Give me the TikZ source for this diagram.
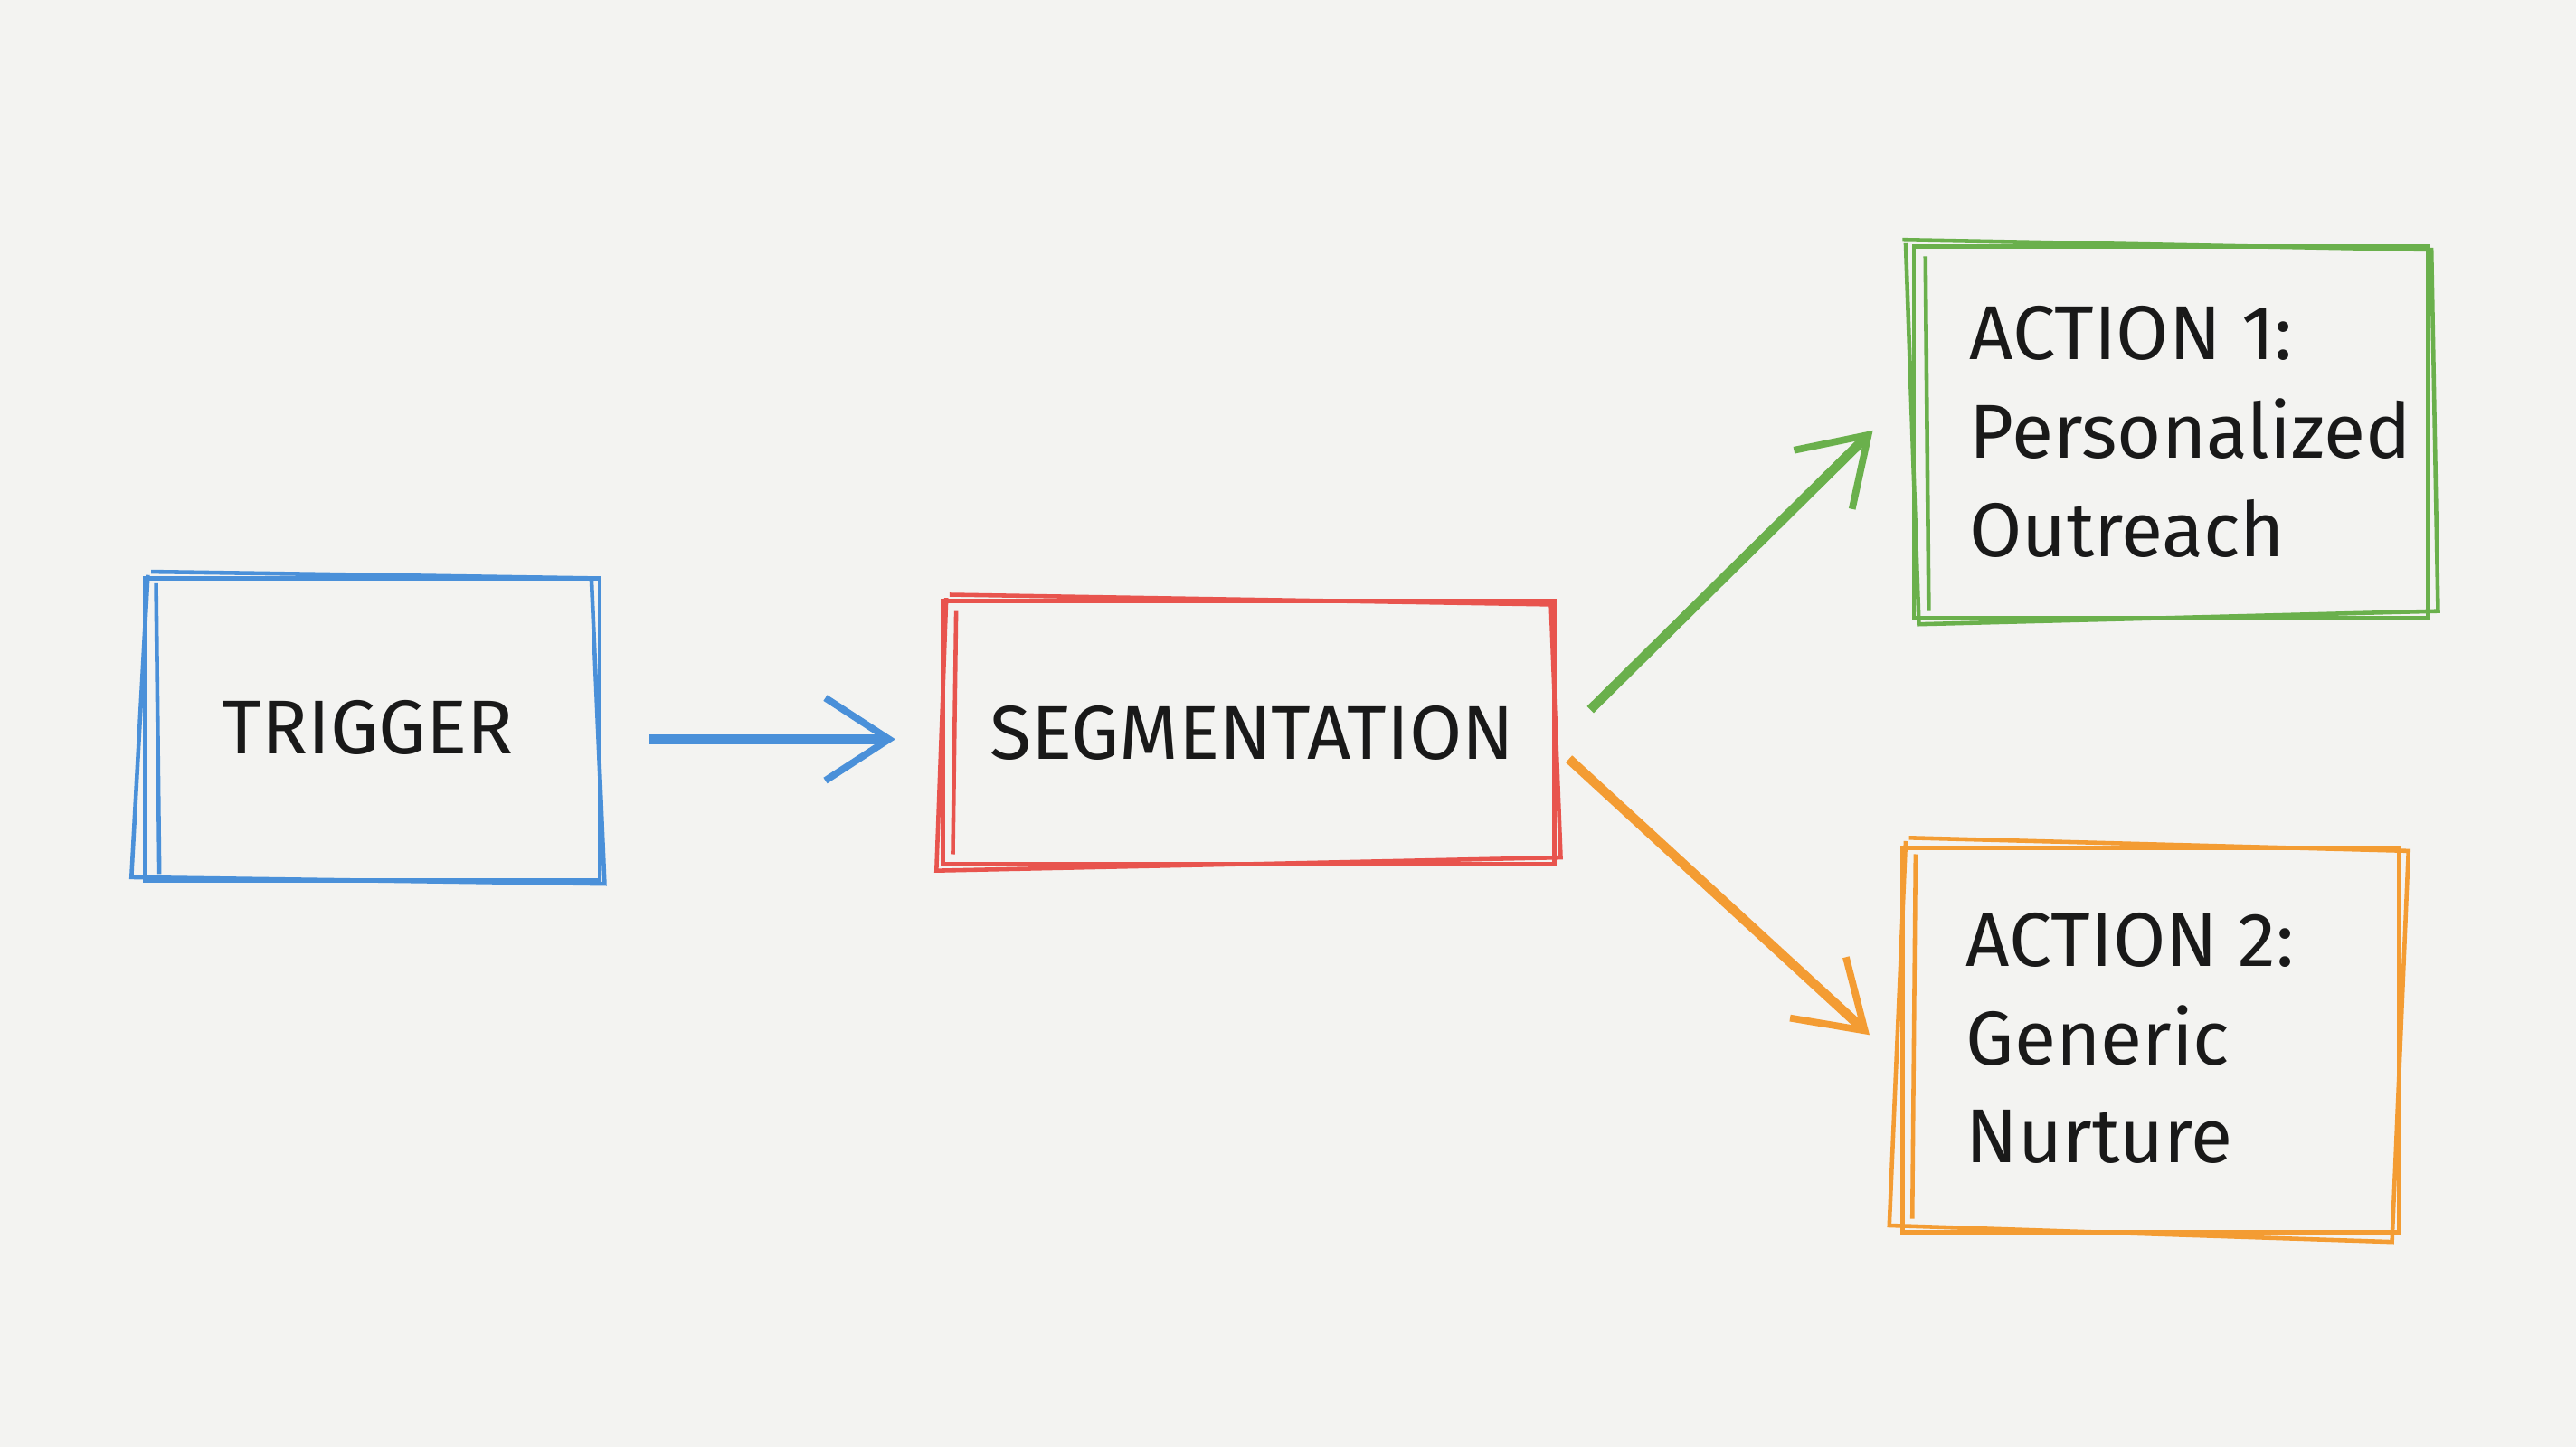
\documentclass[tikz,border=0pt]{standalone}
\usepackage{fontspec}
\setmainfont{Fira Sans}
\usetikzlibrary{arrows.meta}
\definecolor{bg}{HTML}{F3F3F1}
\definecolor{cblue}{HTML}{4A90D9}
\definecolor{cred}{HTML}{E8544E}
\definecolor{cgreen}{HTML}{6AB04C}
\definecolor{corange}{HTML}{F39C33}
\begin{document}
\begin{tikzpicture}[x=0.01816cm,y=-0.01816cm,
  lbl/.style={font=\fontsize{24}{31}\selectfont, text=black!90, align=left},
  sk/.style={line width=1.3pt},
  arr/.style={line width=3pt, -{Straight Barb[length=20pt,width=26pt,line width=2.2pt]}}]
\fill[bg] (0,0) rectangle (1568,881);
\useasboundingbox (0,0) rectangle (1568,881);
% boxes
\node[minimum width=270*0.01816cm, minimum height=180*0.01816cm] (trig) at (226,443) {};
\node[lbl] at (224,443) {TRIGGER};
\draw[sk,cblue] (88,352) rectangle (365,536);
\draw[sk,cblue] (92,348) -- (360,352) -- (368,538) -- (80,534) -- (90,350);
\draw[sk,cblue] (95,355) -- (97,532);
\node[minimum width=370*0.01816cm, minimum height=160*0.01816cm] (seg) at (760,446) {};
\node[lbl] at (762,446) {SEGMENTATION};
\draw[sk,cred] (574,366) rectangle (946,526);
\draw[sk,cred] (578,362) -- (944,368) -- (950,522) -- (570,530) -- (576,364);
\draw[sk,cred] (582,372) -- (580,520);
\node[minimum width=310*0.01816cm, minimum height=225*0.01816cm] (a1) at (1321,263) {};
\node[lbl, anchor=west] at (1192,263) {ACTION 1:\\Personalized\\Outreach};
\draw[sk,cgreen] (1165,150) rectangle (1478,376);
\draw[sk,cgreen] (1158,146) -- (1480,152) -- (1484,372) -- (1168,380) -- (1160,148);
\draw[sk,cgreen] (1172,156) -- (1174,372);
\node[minimum width=300*0.01816cm, minimum height=235*0.01816cm] (a2) at (1308,632) {};
\node[lbl, anchor=west] at (1190,632) {ACTION 2:\\Generic\\Nurture};
\draw[sk,corange] (1158,516) rectangle (1460,750);
\draw[sk,corange] (1162,510) -- (1466,518) -- (1456,756) -- (1150,746) -- (1160,512);
\draw[sk,corange] (1166,520) -- (1164,742);
% arrows
\coordinate (t0) at (395,450); \coordinate (t1) at (545,450);
\coordinate (g0) at (968,432); \coordinate (g1) at (1140,262);
\coordinate (o0) at (955,462); \coordinate (o1) at (1138,630);
\draw[arr,cblue] (t0) -- (t1);
\draw[arr,cgreen] (g0) -- (g1);
\draw[arr,corange] (o0) -- (o1);
\end{tikzpicture}
\end{document}
